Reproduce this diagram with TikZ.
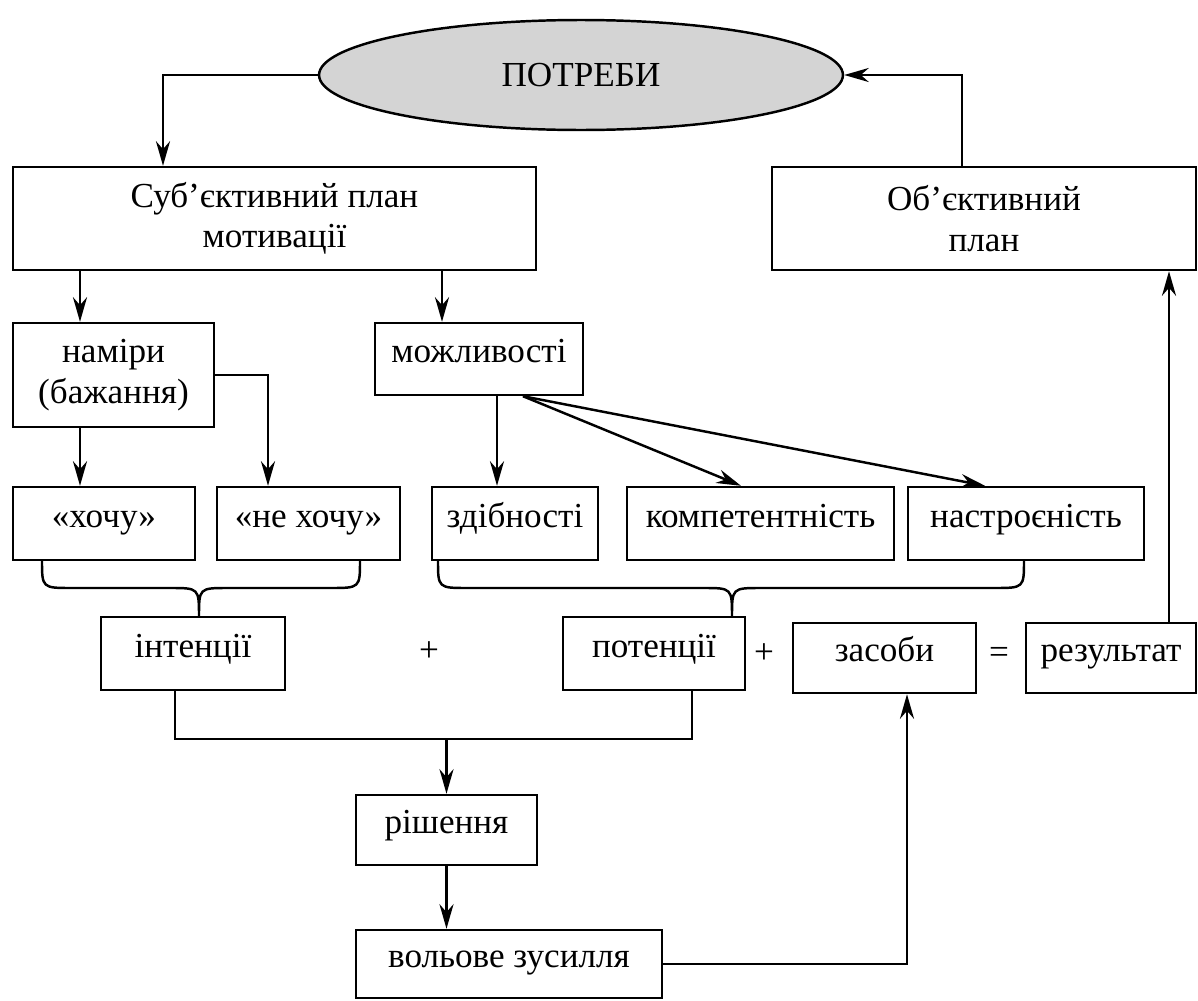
\documentclass[tikz,border=0pt]{standalone}
\usepackage{fontspec}
\setmainfont{Liberation Serif}
\usetikzlibrary{arrows.meta,shapes.geometric}
\tikzset{
  box/.style = {draw, line width=1.4pt, inner sep=0pt, minimum height=1.46cm, text height=1.2ex, text depth=0.3ex},
  tallbox/.style = {draw, line width=1.4pt, inner sep=0pt, align=center},
  arr/.style = {line width=1.4pt, -{Stealth[length=14pt,width=8pt]}},
  conn/.style = {line width=1.4pt},
}
\begin{document}
\begin{tikzpicture}[x=0.02cm, y=-0.02cm, font=\fontsize{20}{23}\selectfont]
  \useasboundingbox (0,0) rectangle (1198,1001);

  \node[draw, ellipse, fill=black!17, line width=1.4pt, inner sep=0pt,
        minimum width=10.48cm, minimum height=2.2cm] (potreby) at (581,75) {ПОТРЕБИ};

  \node[tallbox, minimum width=10.46cm, minimum height=2.06cm] (sub) at (274.5,218.5) {Суб’єктивний план\\мотивації};
  \node[tallbox, minimum width=8.48cm, minimum height=2.06cm] (obj) at (984,218.5) {Об’єктивний\\план};

  \node[tallbox, minimum width=4.02cm, minimum height=2.08cm] (namiry) at (113.5,375) {наміри\\(бажання)};
  \node[box, minimum width=4.16cm, minimum height=1.44cm] (mozhl) at (479,359) {можливості};

  \node[box, minimum width=3.64cm] (hochu) at (104,523.5) {«хочу»};
  \node[box, minimum width=3.66cm] (nehochu) at (308.5,523.5) {«не хочу»};
  \node[box, minimum width=3.32cm] (zdib) at (515,523.5) {здібності};
  \node[box, minimum width=5.34cm] (komp) at (760.5,523.5) {компетентність};
  \node[box, minimum width=4.72cm] (nastr) at (1026,523.5) {настроєність};

  \node[box, minimum width=3.68cm] (intenc) at (193,653.5) {інтенції};
  \node[box, minimum width=3.64cm] (potenc) at (654,653.5) {потенції};
  \node[box, minimum width=3.66cm, minimum height=1.4cm] (zasoby) at (884.5,658) {засоби};
  \node[box, minimum width=3.4cm, minimum height=1.4cm] (rezult) at (1111,658) {результат};
  \node (plus1) at (429,652) {+};
  \node (plus2) at (764,654) {+};
  \node (dorivn) at (999,655) {=};

  \node[box, minimum width=3.62cm, minimum height=1.4cm] (rish) at (446.5,830) {рішення};
  \node[box, minimum width=6.12cm, minimum height=1.36cm] (volia) at (509,964) {вольове зусилля};

  \coordinate (xa) at (80,0);
  \coordinate (xb) at (163,0);
  \coordinate (xc) at (962,0);
  \coordinate (xd) at (442,0);
  \coordinate (xe) at (268,0);
  \coordinate (xf) at (497,0);
  \coordinate (xg) at (523,0);
  \coordinate (xh) at (741,0);
  \coordinate (xi) at (985,0);
  \coordinate (xj) at (175,0);
  \coordinate (xk) at (692,0);
  \coordinate (xl) at (907,0);
  \coordinate (xm) at (1169,0);
  \coordinate (join) at (446.5,739);

  \draw[arr] (potreby.west) -| (sub.north -| xb);
  \draw[arr] (obj.north -| xc) |- (potreby.east);
  \draw[arr] (sub.south -| xa) -- (namiry.north -| xa);
  \draw[arr] (sub.south -| xd) -- (mozhl.north -| xd);
  \draw[arr] (namiry.south -| xa) -- (hochu.north -| xa);
  \draw[arr] (namiry.east) -| (nehochu.north -| xe);
  \draw[arr] (mozhl.south -| xf) -- (zdib.north -| xf);
  \draw[arr] (mozhl.south -| xg) -- (komp.north -| xh);
  \draw[arr] (mozhl.south -| xg) -- (nastr.north -| xi);
  \draw[arr] (rezult.north -| xm) -- (obj.south -| xm);

  \draw[conn] (42,560) .. controls (42,588) .. (72,588) -- (170,588)
    .. controls (199,588) .. (199,617) .. controls (199,588) .. (228,588)
    -- (330,588) .. controls (360,588) .. (360,560);
  \draw[conn] (438,560) .. controls (438,588) .. (468,588) -- (703,588)
    .. controls (732,588) .. (732,617) .. controls (732,588) .. (761,588)
    -- (994,588) .. controls (1024,588) .. (1024,560);

  \draw[conn] (intenc.south -| xj) |- (join) -| (potenc.south -| xk);
  \draw[arr] (join) -- (rish);
  \draw[arr] (rish) -- (volia.north -| rish);
  \draw[arr] (volia.east) -| (zasoby.south -| xl);
\end{tikzpicture}
\end{document}
